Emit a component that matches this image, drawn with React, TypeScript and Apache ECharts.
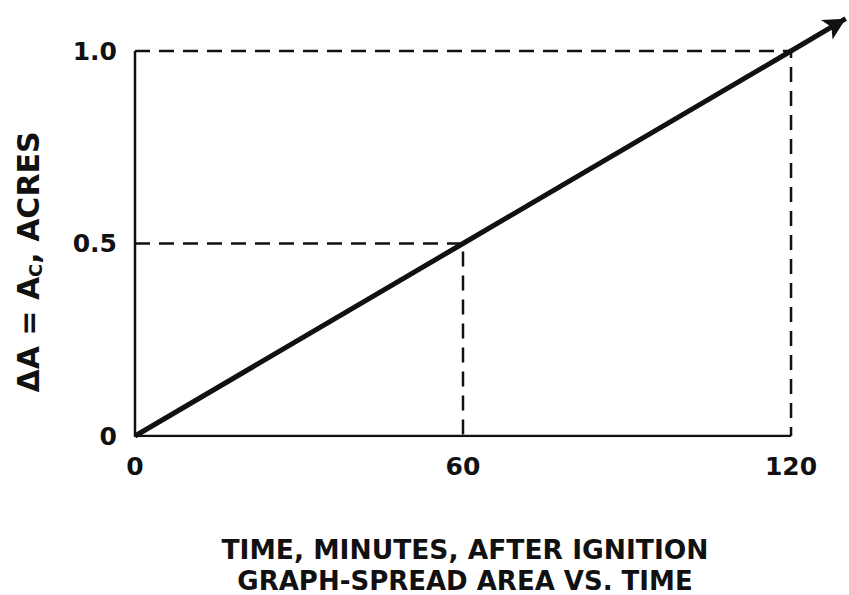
import React, { useEffect, useRef } from "react";
import * as echarts from "echarts";

const xTicks = [0, 60, 120];
const yTicks = [0, 0.5, 1.0];
const spreadLine: [number, number][] = [
  [0, 0],
  [60, 0.5],
  [120, 1.0],
];
const arrowTip: [number, number] = [130, 1.084];
const halfGuide: [number, number][] = [
  [0, 0.5],
  [60, 0.5],
  [60, 0],
];
const fullGuide: [number, number][] = [
  [0, 1.0],
  [120, 1.0],
  [120, 0],
];
const axesFrame: [number, number][] = [
  [0, 1.0],
  [0, 0],
  [120, 0],
];
const xTitle = "TIME, MINUTES, AFTER IGNITION";
const chartTitle = "GRAPH-SPREAD AREA VS. TIME";

const FONT = "'DejaVu Sans', sans-serif";

export default function App() {
  const ref = useRef<HTMLDivElement>(null);
  useEffect(() => {
    if (!ref.current) return;
    const chart = echarts.init(ref.current, undefined, { renderer: "svg" });
    const last = spreadLine[spreadLine.length - 1];
    chart.setOption({
      animation: false,
      backgroundColor: "#ffffff",
      grid: { left: 135, right: 3.3, top: 12.5, bottom: 159 },
      xAxis: {
        type: "value",
        min: xTicks[0],
        max: 130,
        interval: 60,
        axisLine: { show: false },
        axisTick: { show: false },
        splitLine: { show: false },
        axisLabel: {
          margin: 18,
          color: "#111",
          fontFamily: FONT,
          fontWeight: "bold",
          fontSize: 25,
          showMaxLabel: false,
          formatter: (v: number) => (xTicks.includes(v) ? String(v) : ""),
        },
      },
      yAxis: {
        type: "value",
        min: yTicks[0],
        max: 1.1,
        interval: 0.5,
        axisLine: { show: false },
        axisTick: { show: false },
        splitLine: { show: false },
        axisLabel: {
          margin: 18,
          color: "#111",
          fontFamily: FONT,
          fontWeight: "bold",
          fontSize: 25,
          showMaxLabel: false,
          formatter: (v: number) =>
            yTicks.includes(v) ? (v === 0 ? "0" : v.toFixed(1)) : "",
        },
      },
      series: [
        {
          type: "line",
          data: axesFrame,
          symbol: "none",
          lineStyle: { color: "#111", width: 2.5, join: "round" },
          z: 2,
        },
        {
          type: "line",
          data: fullGuide,
          symbol: "none",
          lineStyle: { color: "#111", width: 2.5, type: [15, 9] },
          z: 1,
        },
        {
          type: "line",
          data: halfGuide,
          symbol: "none",
          lineStyle: { color: "#111", width: 2.5, type: [15, 9] },
          z: 1,
        },
        {
          type: "line",
          data: spreadLine,
          symbol: "none",
          lineStyle: { color: "#111", width: 5 },
          z: 3,
          markLine: {
            silent: true,
            symbol: ["none", "arrow"],
            symbolSize: [17, 22],
            label: { show: false },
            lineStyle: { color: "#111", width: 5, type: "solid" },
            data: [[{ coord: last }, { coord: arrowTip }]],
          },
        },
      ],
      graphic: [
        {
          type: "text",
          x: 465,
          y: 549,
          style: {
            text: xTitle,
            align: "center",
            verticalAlign: "middle",
            fill: "#111",
            font: `bold 26.5px ${FONT}`,
          },
        },
        {
          type: "text",
          x: 465,
          y: 581,
          style: {
            text: chartTitle,
            align: "center",
            verticalAlign: "middle",
            fill: "#111",
            font: `bold 26px ${FONT}`,
          },
        },
        {
          type: "text",
          x: 28,
          y: 262,
          rotation: Math.PI / 2,
          style: {
            text: "{m|ΔA = A}{s|C}{m|, ACRES}",
            align: "center",
            verticalAlign: "middle",
            rich: {
              m: { font: `bold 30px ${FONT}`, fill: "#111" },
              s: { font: `bold 18px ${FONT}`, fill: "#111", padding: [15, 0, 0, 0] },
            },
          },
        },
      ],
    });
    return () => chart.dispose();
  }, []);
  return <div ref={ref} style={{ width: 849, height: 595, position: "absolute", left: 0, top: 0 }} />;
}
